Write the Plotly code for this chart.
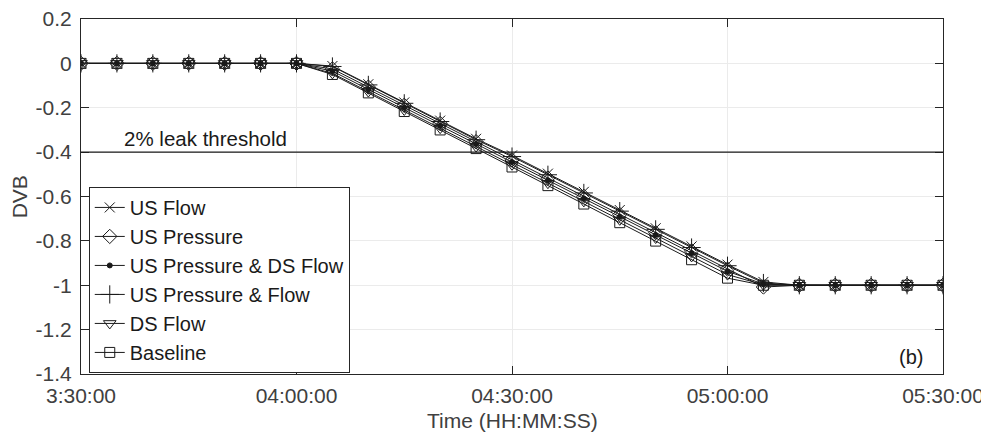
import plotly.graph_objects as go

times = ["2020-01-01 03:30:00", "2020-01-01 03:35:00", "2020-01-01 03:40:00", "2020-01-01 03:45:00",
         "2020-01-01 03:50:00", "2020-01-01 03:55:00", "2020-01-01 04:00:00", "2020-01-01 04:05:00",
         "2020-01-01 04:10:00", "2020-01-01 04:15:00", "2020-01-01 04:20:00", "2020-01-01 04:25:00",
         "2020-01-01 04:30:00", "2020-01-01 04:35:00", "2020-01-01 04:40:00", "2020-01-01 04:45:00",
         "2020-01-01 04:50:00", "2020-01-01 04:55:00", "2020-01-01 05:00:00", "2020-01-01 05:05:00",
         "2020-01-01 05:10:00", "2020-01-01 05:15:00", "2020-01-01 05:20:00", "2020-01-01 05:25:00",
         "2020-01-01 05:30:00"]

pre = [0, 0, 0, 0, 0, 0, 0]
post = [-1, -1, -1, -1, -1]

us_flow = pre + [-0.012, -0.094, -0.176, -0.258, -0.340, -0.415, -0.497, -0.579, -0.661, -0.743, -0.825, -0.907, -0.985] + post
us_pressure = pre + [-0.025, -0.107, -0.189, -0.271, -0.353, -0.435, -0.517, -0.599, -0.681, -0.763, -0.845, -0.927, -1.008] + post
us_p_ds_flow = pre + [-0.035, -0.117, -0.199, -0.281, -0.363, -0.445, -0.527, -0.609, -0.691, -0.773, -0.855, -0.937, -0.995] + post
us_p_flow = pre + [-0.014, -0.097, -0.180, -0.262, -0.344, -0.420, -0.502, -0.584, -0.666, -0.748, -0.830, -0.912, -0.990] + post
ds_flow = pre + [-0.045, -0.127, -0.210, -0.292, -0.375, -0.457, -0.540, -0.622, -0.705, -0.787, -0.870, -0.952, -0.998] + post
baseline = pre + [-0.050, -0.133, -0.217, -0.300, -0.384, -0.467, -0.551, -0.634, -0.718, -0.801, -0.885, -0.968, -1.000] + post

threshold = -0.4
threshold_label = "2% leak threshold"

x_tickvals = ["2020-01-01 03:30:00", "2020-01-01 04:00:00", "2020-01-01 04:30:00",
              "2020-01-01 05:00:00", "2020-01-01 05:30:00"]
x_ticktext = ["3:30:00", "04:00:00", "04:30:00", "05:00:00", "05:30:00"]
y_tickvals = [0.2, 0, -0.2, -0.4, -0.6, -0.8, -1, -1.2, -1.4]
y_ticktext = ["0.2", "0", "-0.2", "-0.4", "-0.6", "-0.8", "-1", "-1.2", "-1.4"]

series = [
    ("US Flow", us_flow, "x-thin-open", 10),
    ("US Pressure", us_pressure, "diamond-open", 11),
    ("US Pressure & DS Flow", us_p_ds_flow, "circle", 5),
    ("US Pressure & Flow", us_p_flow, "cross-thin-open", 13),
    ("DS Flow", ds_flow, "triangle-down-open", 11),
    ("Baseline", baseline, "square-open", 10),
]

ink = "#1a1a1a"
txt = "#404040"

fig = go.Figure()
for name, vals, sym, size in series:
    fig.add_trace(go.Scatter(
        x=times, y=vals, name=name, mode="lines+markers",
        line=dict(color=ink, width=1),
        marker=dict(symbol=sym, size=size, color=ink,
                    line=dict(color=ink, width=1)),
    ))

fig.add_shape(type="line", xref="paper", x0=0, x1=1, yref="y", y0=threshold, y1=threshold,
              line=dict(color=ink, width=1.2))
fig.add_annotation(x=0.048, y=threshold, xref="paper", yref="y",
                   text=threshold_label, showarrow=False, xanchor="left", yanchor="bottom",
                   yshift=0, font=dict(size=20.5, color=ink))
fig.add_annotation(x=0.979, y=0.01, xref="paper", yref="paper", text="(b)", showarrow=False,
                   xanchor="right", yanchor="bottom", font=dict(size=20, color=ink))
# axis titles
fig.add_annotation(x=0.5, y=-0.13, xref="paper", yref="paper", text="Time (HH:MM:SS)",
                   showarrow=False, xanchor="center", yanchor="middle", font=dict(size=21, color=txt))
fig.add_annotation(x=-0.071, y=0.5, xref="paper", yref="paper", text="DVB", textangle=-90,
                   showarrow=False, xanchor="center", yanchor="middle", font=dict(size=21, color=txt))

axis_common = dict(showline=True, linecolor="#262626", linewidth=1, mirror="ticks",
                   ticks="inside", ticklen=8, tickcolor="#262626", automargin=False,
                   showgrid=True, gridcolor="#ebebeb", gridwidth=1, zeroline=False,
                   ticklabeloverflow="allow",
                   tickfont=dict(size=21, color=txt))

fig.update_layout(
    width=989, height=440,
    margin=dict(l=73, r=54, t=11, b=74),
    paper_bgcolor="white", plot_bgcolor="white",
    font=dict(family="Liberation Sans, Arial, sans-serif", color=txt),
    xaxis=dict(range=[x_tickvals[0], x_tickvals[-1]], tickvals=x_tickvals, ticktext=x_ticktext,
               ticklabelstandoff=3, **axis_common),
    yaxis=dict(range=[-1.4, 0.2], tickvals=y_tickvals, ticktext=y_ticktext,
               ticklabelstandoff=4, **axis_common),
    legend=dict(x=0.009, y=0.265, xanchor="left", yanchor="middle",
                bgcolor="white", bordercolor="#262626", borderwidth=1,
                font=dict(size=20, color=ink), tracegroupgap=0, itemwidth=30),
    showlegend=True,
)

fig.write_html("out.html")
